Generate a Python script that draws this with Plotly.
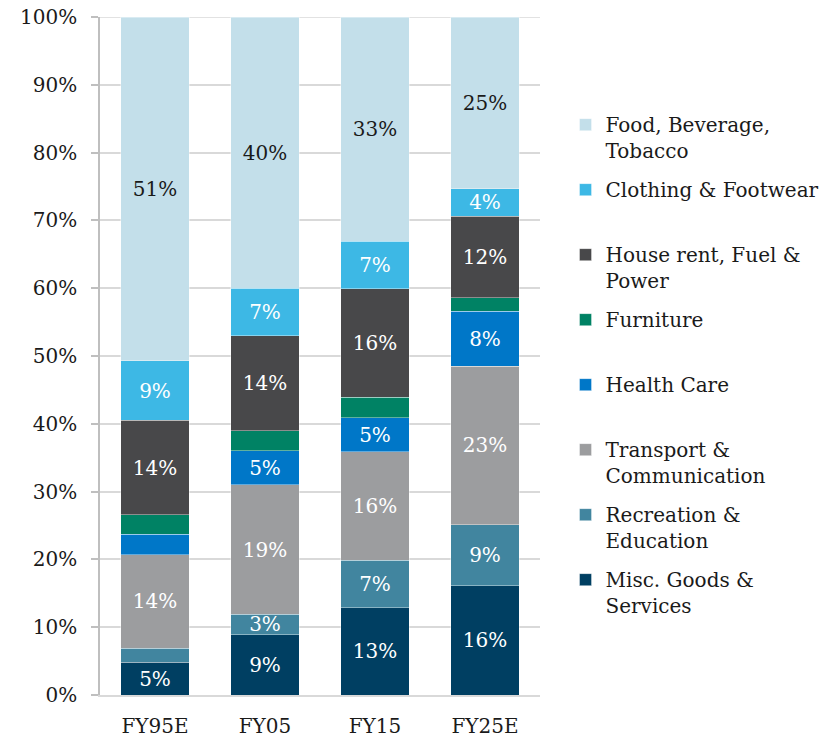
import plotly.graph_objects as go

categories = ["FY95E", "FY05", "FY15", "FY25E"]

series_names = [
    "Misc. Goods &<br>Services",
    "Recreation &<br>Education",
    "Transport &<br>Communication",
    "Health Care<br> ",
    "Furniture<br> ",
    "House rent, Fuel &<br>Power",
    "Clothing & Footwear<br> ",
    "Food, Beverage,<br>Tobacco",
]

misc = [4.8, 8.9, 12.9, 16.1]
recreation = [2.1, 3.0, 7.0, 9.0]
transport = [13.8, 19.1, 16.0, 23.4]
health = [3.0, 5.0, 5.0, 8.1]
furniture = [2.9, 3.0, 3.0, 2.0]
house = [13.9, 14.0, 16.0, 12.0]
clothing = [8.8, 7.0, 7.0, 4.1]
food = [50.7, 40.0, 33.1, 25.3]

misc_labels = ["5%", "9%", "13%", "16%"]
recreation_labels = ["", "3%", "7%", "9%"]
transport_labels = ["14%", "19%", "16%", "23%"]
health_labels = ["", "5%", "5%", "8%"]
furniture_labels = ["", "", "", ""]
house_labels = ["14%", "14%", "16%", "12%"]
clothing_labels = ["9%", "7%", "7%", "4%"]
food_labels = ["51%", "40%", "33%", "25%"]

y_ticks = [0, 10, 20, 30, 40, 50, 60, 70, 80, 90, 100]
y_tick_labels = ["0%", "10%", "20%", "30%", "40%", "50%", "60%", "70%", "80%", "90%", "100%"]

series_values = [misc, recreation, transport, health, furniture, house, clothing, food]
series_labels = [misc_labels, recreation_labels, transport_labels, health_labels,
                 furniture_labels, house_labels, clothing_labels, food_labels]
colors = ["#003f62", "#41859f", "#9c9d9f", "#0077c8", "#008264", "#48484a", "#3db8e5", "#c3dfea"]
text_colors = ["white"] * 7 + ["#1a1a1a"]

FONT = "DejaVu Serif"

fig = go.Figure()
n = len(series_names)
for i, (name, vals, labs) in enumerate(zip(series_names, series_values, series_labels)):
    fig.add_trace(go.Bar(
        x=categories, y=vals, name=name, text=labs,
        textposition="inside", insidetextanchor="middle", textangle=0,
        textfont=dict(color=text_colors[i], size=20, family=FONT),
        marker=dict(color=colors[i], line=dict(color="rgba(255,255,255,0.5)", width=0.75)),
        legendgroup="g%d" % i,
        legendrank=n - i,
        hoverinfo="x+y",
    ))

# top gridline (100%) drawn explicitly so it shows at the range edge
fig.add_shape(type="line", xref="paper", yref="y", x0=-0.016, x1=1, y0=y_ticks[-1], y1=y_ticks[-1],
              line=dict(color="#d9d9d9", width=1.5), layer="below")

fig.update_layout(
    barmode="stack",
    bargap=0.38,
    width=826, height=730,
    margin=dict(l=92, r=282, t=9, b=43),
    plot_bgcolor="white", paper_bgcolor="white",
    font=dict(family=FONT, size=20, color="#1a1a1a"),
    uniformtext=dict(minsize=20, mode="show"),
    legend=dict(
        x=1.058, xanchor="left", y=0.87, yanchor="top",
        valign="top", traceorder="grouped", tracegroupgap=10,
        font=dict(family=FONT, size=20, color="#1a1a1a"),
        bgcolor="rgba(0,0,0,0)",
    ),
    xaxis=dict(
        showline=True, linecolor="#d9d9d9", linewidth=1.5,
        ticks="", showgrid=False, ticklabelstandoff=12, automargin=False,
        ticklabeloverflow="allow",
    ),
    yaxis=dict(
        range=[0, 100], tickmode="array", tickvals=y_ticks, ticktext=y_tick_labels,
        showgrid=True, gridcolor="#d9d9d9", gridwidth=1.5,
        showline=True, linecolor="#bfbfbf", linewidth=1.5,
        ticks="outside", ticklen=7, tickcolor="#bfbfbf", tickwidth=1.5,
        zeroline=False, ticklabelstandoff=10, automargin=False,
        ticklabeloverflow="allow",
    ),
)

fig.write_html("out.html")
